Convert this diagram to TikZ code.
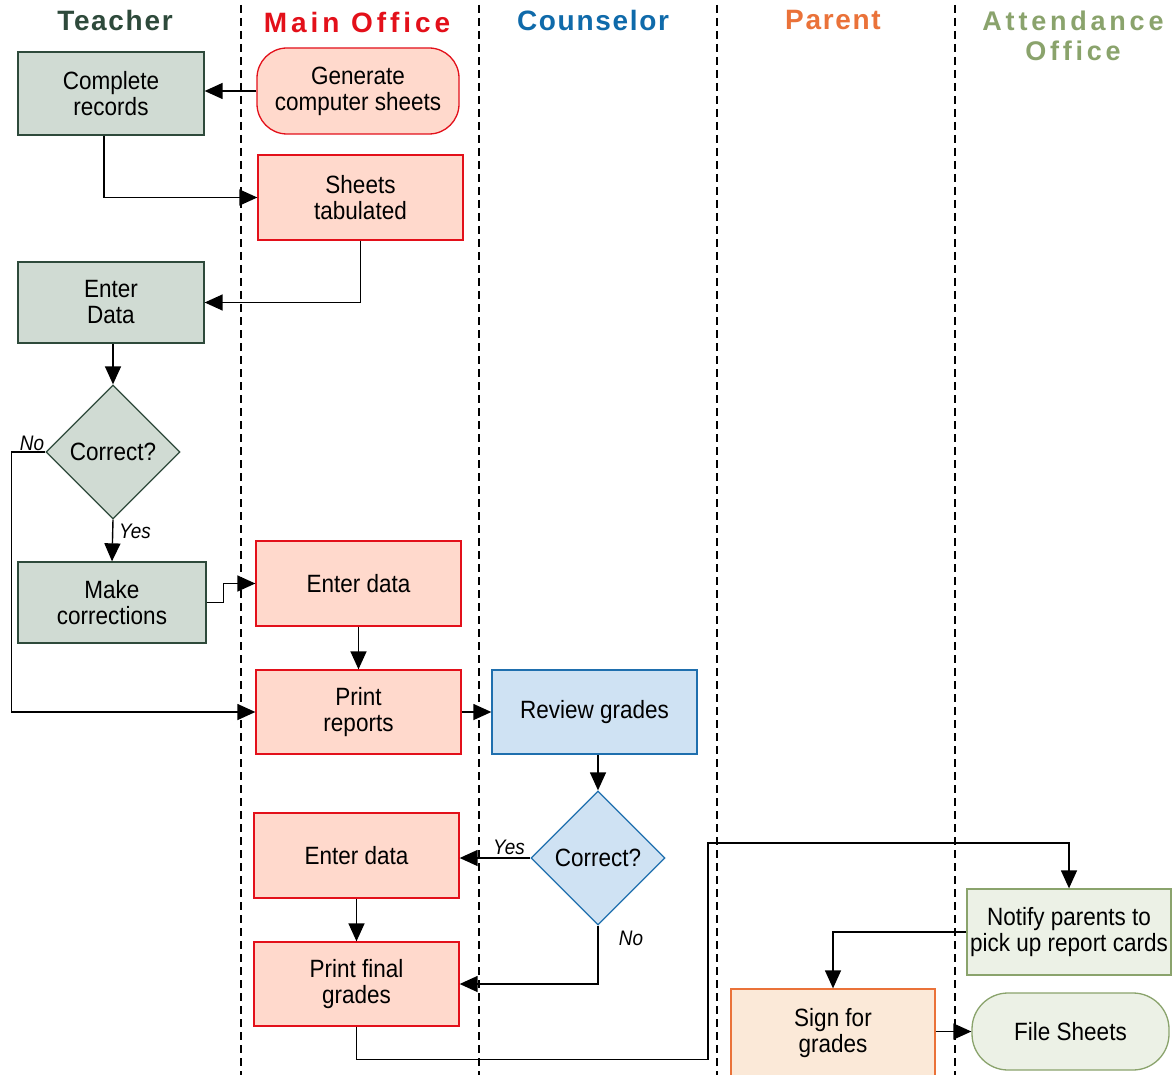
\documentclass[tikz,border=0pt]{standalone}
\usepackage{fontspec}
\setmainfont{Liberation Sans}
\newfontfamily\nodefont[FakeStretch=0.9]{Liberation Sans}
\newfontfamily\headfont[LetterSpace=6]{Liberation Sans}
\newfontfamily\headwidefont[LetterSpace=14]{Liberation Sans}
\usetikzlibrary{shapes.geometric,arrows.meta}
\definecolor{tbord}{HTML}{2E4A3B}
\definecolor{tfill}{HTML}{D0DBD3}
\definecolor{mred}{HTML}{E3101A}
\definecolor{mfill}{HTML}{FFD9CC}
\definecolor{cblue}{HTML}{1F6FAE}
\definecolor{cfill}{HTML}{CFE2F3}
\definecolor{chead}{HTML}{0F6AAA}
\definecolor{porange}{HTML}{EA7239}
\definecolor{pfill}{HTML}{FBE9D8}
\definecolor{agreen}{HTML}{8AA36C}
\definecolor{afill}{HTML}{ECF1E6}
\tikzset{
  every node/.style={font=\nodefont\fontsize{25}{26}\selectfont, align=center, inner sep=0pt},
  box/.style={draw, line width=1.3pt, rectangle},
  tbox/.style={box, draw=tbord, fill=tfill},
  mbox/.style={box, draw=mred, fill=mfill},
  cbox/.style={box, draw=cblue, fill=cfill},
  pbox/.style={box, draw=porange, fill=pfill},
  abox/.style={box, draw=agreen, fill=afill},
  dec/.style={diamond, draw, line width=1.3pt, minimum width=134pt, minimum height=134pt, aspect=1},
  conn/.style={line width=1.4pt, -{Triangle[length=18pt,width=16pt]}},
  lane/.style={line width=1.4pt, dash pattern=on 8pt off 5pt},
  lbl/.style={font=\nodefont\itshape\fontsize{21}{22}\selectfont},
  hd/.style={font=\headfont\bfseries\fontsize{28}{30}\selectfont}
}
\begin{document}
\begin{tikzpicture}[x=1pt,y=-1pt]
\useasboundingbox (0,0) rectangle (1172,1075);
% lanes
\foreach \x in {241,479,717,955} \draw[lane] (\x,5) -- (\x,1075);
% headers
\node[hd, text=tbord] (h1) at (115,20) {Teacher};
\node[hd, text=mred, font=\headwidefont\bfseries\fontsize{28}{30}\selectfont] (h2) at (357,22) {Main Office};
\node[hd, text=chead] (h3) at (593,20) {Counselor};
\node[hd, text=porange] (h4) at (833,20) {Parent};
\node[hd, text=agreen, font=\headwidefont\bfseries\fontsize{27}{30}\selectfont] (h5) at (1073,36) {Attendance\\Office};
% nodes
\node[tbox, minimum width=186pt, minimum height=83pt] (cr) at (111,93.5) {Complete\\records};
\node[mbox, rounded corners=30pt, minimum width=202pt, minimum height=86pt] (gen) at (358,91) {Generate\\computer sheets};
\node[mbox, minimum width=205pt, minimum height=85pt] (st) at (360.5,197.5) {Sheets\\tabulated};
\node[tbox, minimum width=186pt, minimum height=81pt] (ed) at (111,302.5) {Enter\\Data};
\node[dec, draw=tbord, fill=tfill] (d1) at (113,452) {Correct?};
\node[tbox, minimum width=188pt, minimum height=81pt] (mc) at (112,602.5) {Make\\corrections};
\node[mbox, minimum width=205pt, minimum height=85pt] (edm) at (358.5,583.5) {Enter data};
\node[mbox, minimum width=205pt, minimum height=84pt] (pr) at (358.5,712) {Print\\reports};
\node[cbox, minimum width=205pt, minimum height=84pt] (rg) at (594.5,712) {Review grades};
\node[dec, draw=cblue, fill=cfill] (d2) at (598,858) {Correct?};
\node[mbox, minimum width=205pt, minimum height=85pt] (ed2) at (356.5,855.5) {Enter data};
\node[mbox, minimum width=205pt, minimum height=84pt] (pf) at (356.5,984) {Print final\\grades};
\node[abox, minimum width=204pt, minimum height=86pt] (nt) at (1069,932) {Notify parents to\\pick up report cards};
\node[pbox, minimum width=204pt, minimum height=88pt] (sg) at (833,1033) {Sign for\\grades};
\node[abox, rounded corners=36pt, minimum width=197pt, minimum height=77pt] (fs) at (1070.5,1031.5) {File Sheets};
\coordinate (c1) at (708,843);
% connectors
\draw[conn] (gen.west) -- (gen.west -| cr.east);
\draw[conn] ([xshift=-7pt]cr.south) |- (st.west);
\draw[conn] (st.south) |- (ed.east);
\draw[conn] (d1.north |- ed.south) -- (d1.north);
\draw[conn] (d1.west) -- ++(-34,0) |- (pr.west);
\draw[conn] (d1.south) -- (mc.north);
\draw[conn] (mc.east) -- ++(17,0) |- (edm.west);
\draw[conn] (edm.south) -- (pr.north);
\draw[conn] (pr.east) -- (rg.west);
\draw[conn] (d2.north |- rg.south) -- (d2.north);
\draw[conn] (d2.west) -- (d2.west -| ed2.east);
\draw[conn] (d2.south) |- (pf.east);
\draw[conn] (ed2.south) -- (pf.north);
\draw[conn] (pf.south) -- ++(0,33) -| (c1) -| (nt.north);
\draw[conn] (nt.west) -| (sg.north);
\draw[conn] (sg.east |- fs.west) -- (fs.west);
% labels
\node[lbl] (l1) at (32,443) {No};
\node[lbl] (l2) at (135,531) {Yes};
\node[lbl] (l3) at (509,847) {Yes};
\node[lbl] (l4) at (631,938) {No};
\end{tikzpicture}
\end{document}
